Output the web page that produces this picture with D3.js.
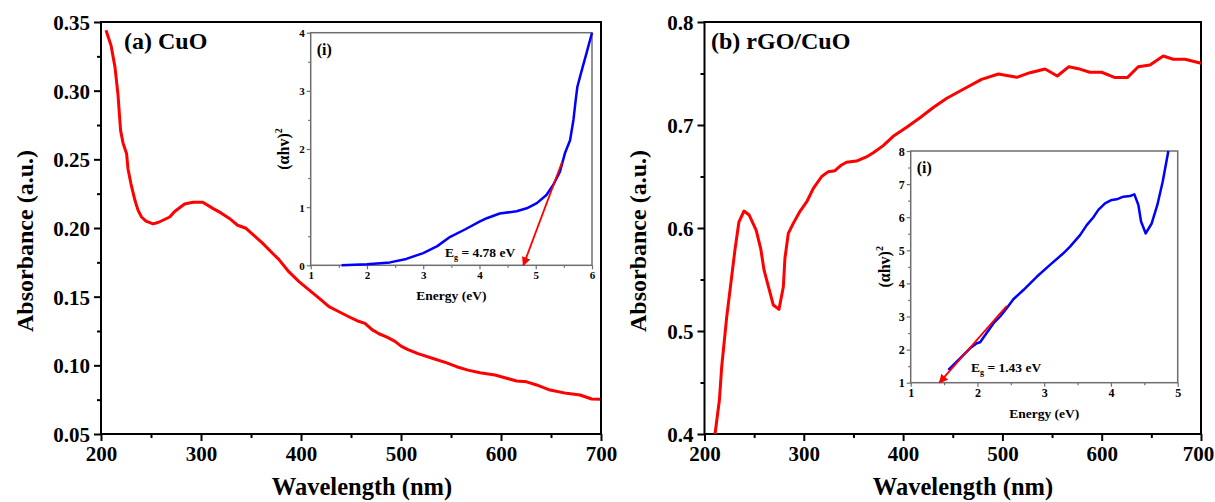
<!DOCTYPE html>
<html><head><meta charset="utf-8">
<script src="https://cdn.jsdelivr.net/npm/d3@7"></script>
<style>
html,body{margin:0;padding:0;background:#fff;}
svg{display:block;}
text{font-family:"Liberation Serif","Times New Roman",serif;font-weight:bold;fill:#000;}
</style></head>
<body><svg id="c" width="1215" height="502"></svg>
<script>
// ---------- DATA ----------
const cuoWavelength = [205,210,214,217,219.6,222,225.6,227,230,234,237,240.5,245,252,257,263,268.7,273.6,283.6,291.9,301.8,311.8,320,328.4,336.6,345,361.5,371.5,378,388,398,408,418,428,438,447.8,456,464,471,478,486,494,500,507,517,532,545,555.6,567,579,594,605.6,615.6,625.6,635.6,649,665.6,679,690.7,699];
const cuoAbsorbance = [0.344,0.333,0.317,0.297,0.271,0.262,0.254,0.243,0.232,0.220,0.213,0.208,0.205,0.203,0.204,0.206,0.208,0.212,0.2175,0.2187,0.2187,0.2143,0.211,0.207,0.202,0.1998,0.189,0.1816,0.177,0.168,0.161,0.155,0.149,0.1427,0.139,0.1354,0.1325,0.1306,0.126,0.123,0.1205,0.1175,0.114,0.1115,0.1085,0.105,0.102,0.099,0.0965,0.0946,0.093,0.0906,0.0886,0.088,0.0857,0.082,0.0796,0.0784,0.0755,0.0753];

const rgoWavelength = [210.6,215,217.3,222.4,227.4,230.7,234.7,239.8,245,252,256.6,260,269.3,275,279.4,281,284.4,289.4,296,303,309.6,318,324.7,331.4,338,343,353,363,370,380,390,403.6,417,430.4,444,460.6,479,496,514.4,527.8,543,555.3,567,576.4,588,600,613.4,625.8,636.8,648.6,662,672,684,700];
const rgoAbsorbance = [0.400,0.433,0.465,0.514,0.553,0.579,0.606,0.6165,0.6126,0.598,0.580,0.559,0.5252,0.521,0.543,0.5706,0.5948,0.6045,0.616,0.6255,0.6385,0.650,0.6547,0.6556,0.6612,0.6638,0.665,0.669,0.673,0.680,0.689,0.6978,0.707,0.717,0.726,0.7347,0.7443,0.7495,0.7463,0.7508,0.7544,0.7476,0.7566,0.7547,0.7512,0.7512,0.746,0.746,0.7566,0.7583,0.767,0.7638,0.7638,0.760];

const cuoEnergy = [1.55,2.0,2.41,2.7,3.0,3.25,3.48,3.75,4.0,4.13,4.36,4.66,4.84,5.02,5.19,5.31,5.43,5.52,5.61,5.67,5.71,5.74,5.82,5.9,6.0];
const cuoTauc = [0,0.02,0.05,0.11,0.21,0.33,0.49,0.62,0.75,0.81,0.89,0.93,0.98,1.07,1.21,1.38,1.61,1.93,2.15,2.5,2.84,3.07,3.36,3.64,4.0];
const cuoFitE = [5.47,4.78];
const cuoFitV = [1.78,0];
const cuoGap = "4.78 eV";

const rgoEnergy = [1.564,1.739,1.889,1.989,2.04,2.238,2.34,2.438,2.538,2.688,2.888,3.087,3.287,3.387,3.537,3.637,3.737,3.811,3.911,4.011,4.086,4.186,4.286,4.351,4.411,4.451,4.521,4.61,4.695,4.775,4.86];
const rgoTauc = [1.384,1.736,2.04,2.19,2.22,2.79,3.0,3.25,3.52,3.80,4.20,4.56,4.91,5.11,5.46,5.76,6.0,6.22,6.42,6.52,6.54,6.62,6.64,6.69,6.37,5.87,5.51,5.81,6.37,7.07,8.0];
const rgoFitE = [2.44,1.43];
const rgoFitV = [3.32,1.0];
const rgoGap = "1.43 eV";

const cuoYTicks = [0.05,0.10,0.15,0.20,0.25,0.30,0.35];
const rgoYTicks = [0.4,0.5,0.6,0.7,0.8];
const wlTicks = [200,300,400,500,600,700];

// ---------- DRAW ----------
const svg = d3.select("#c");
svg.append("rect").attr("width",1215).attr("height",502).attr("fill","#fff");
const defs = svg.append("defs");
defs.append("marker").attr("id","arr").attr("viewBox","0 0 10 10").attr("refX",9).attr("refY",5)
  .attr("markerWidth",5).attr("markerHeight",5).attr("orient","auto")
  .append("path").attr("d","M0,0 L10,5 L0,10 Z").attr("fill","#ff0000");

function styleAxis(g, color, width, fs){
  g.select(".domain").remove();
  g.selectAll(".tick line").attr("stroke",color).attr("stroke-width",width);
  g.selectAll(".tick text").attr("font-size",fs).attr("font-family","Liberation Serif").attr("font-weight","bold").attr("fill","#000");
}

function mainPanel(o){
  const x = d3.scaleLinear().domain([200,700]).range(o.xr);
  const y = d3.scaleLinear().domain(o.yd).range([434,22]);
  const xmin = d3.range(250,700,100);
  const ymin = o.yMinor;
  const gxm = svg.append("g").attr("transform","translate(0,434)")
    .call(d3.axisBottom(x).tickValues(xmin).tickSize(4).tickFormat(""));
  styleAxis(gxm,"#000",2,0);
  const gym = svg.append("g").attr("transform",`translate(${o.xr[0]},0)`)
    .call(d3.axisLeft(y).tickValues(ymin).tickSize(4).tickFormat(""));
  styleAxis(gym,"#000",2,0);
  const gx = svg.append("g").attr("transform","translate(0,434)")
    .call(d3.axisBottom(x).tickValues(wlTicks).tickSize(7).tickPadding(5).tickFormat(d3.format("d")));
  styleAxis(gx,"#000",2,"21px");
  if (o.lastShift) gx.selectAll(".tick text").filter(d=>d===700).attr("dx",o.lastShift);
  const gy = svg.append("g").attr("transform",`translate(${o.xr[0]},0)`)
    .call(d3.axisLeft(y).tickValues(o.yt).tickSize(7).tickPadding(4).tickFormat(d3.format(o.fmt)));
  styleAxis(gy,"#000",2,"21px");
  gy.selectAll(".tick text").attr("dy","0.35em");
  svg.append("rect").attr("x",o.xr[0]).attr("y",22).attr("width",o.xr[1]-o.xr[0]).attr("height",412)
    .attr("fill","none").attr("stroke","#000").attr("stroke-width",2);
  const line = d3.line().x(d=>x(d[0])).y(d=>y(d[1]));
  svg.append("path").datum(d3.zip(o.wl,o.ab)).attr("d",line)
    .attr("fill","none").attr("stroke","#ff0000").attr("stroke-width",3).attr("stroke-linejoin","round");
  svg.append("text").attr("x",o.titleX).attr("y",49).attr("font-size","24px").text(o.title);
  svg.append("text").attr("transform",`translate(${o.ylabX},241) rotate(-90)`).attr("text-anchor","middle")
    .attr("font-size","24px").text("Absorbance (a.u.)");
  svg.append("text").attr("x",o.xlabX).attr("y",495).attr("text-anchor","middle")
    .attr("font-size","24.5px").text("Wavelength (nm)");
}

function insetPanel(o){
  const x = d3.scaleLinear().domain(o.xd).range(o.xr);
  const y = d3.scaleLinear().domain(o.yd).range(o.yr);
  const c = "#6e6e6e";
  svg.append("rect").attr("x",o.xr[0]).attr("y",o.yr[1]).attr("width",o.xr[1]-o.xr[0]).attr("height",o.yr[0]-o.yr[1])
    .attr("fill","#fff").attr("stroke","none");
  const gxm = svg.append("g").attr("transform",`translate(0,${o.yr[0]})`)
    .call(d3.axisBottom(x).tickValues(o.xMinor).tickSize(2.5).tickFormat(""));
  styleAxis(gxm,c,1.2,0);
  const gym = svg.append("g").attr("transform",`translate(${o.xr[0]},0)`)
    .call(d3.axisLeft(y).tickValues(o.yMinor).tickSize(2.5).tickFormat(""));
  styleAxis(gym,c,1.2,0);
  const gx = svg.append("g").attr("transform",`translate(0,${o.yr[0]})`)
    .call(d3.axisBottom(x).tickValues(o.xt).tickSize(4).tickPadding(2).tickFormat(d3.format("d")));
  styleAxis(gx,c,1.2,o.fs);
  const gy = svg.append("g").attr("transform",`translate(${o.xr[0]},0)`)
    .call(d3.axisLeft(y).tickValues(o.yt).tickSize(4).tickPadding(2).tickFormat(d3.format("d")));
  styleAxis(gy,c,1.2,o.fs);
  gy.selectAll(".tick text").attr("dy","0.35em");
  svg.append("rect").attr("x",o.xr[0]).attr("y",o.yr[1]).attr("width",o.xr[1]-o.xr[0]).attr("height",o.yr[0]-o.yr[1])
    .attr("fill","none").attr("stroke",c).attr("stroke-width",1.5);
  const line = d3.line().x(d=>x(d[0])).y(d=>y(d[1]));
  svg.append("path").datum(d3.zip(o.e,o.v)).attr("d",line)
    .attr("fill","none").attr("stroke","#0000ff").attr("stroke-width",2.5).attr("stroke-linejoin","round");
  svg.append("path").datum(d3.zip(o.fe,o.fv)).attr("d",line)
    .attr("fill","none").attr("stroke","#ff0000").attr("stroke-width",1.8).attr("marker-end","url(#arr)");
  svg.append("text").attr("x",o.xr[0]+6).attr("y",o.yr[1]+22).attr("font-size","16px").text("(i)");
  svg.append("text").attr("x",(o.xr[0]+o.xr[1])/2).attr("y",o.yr[0]+35).attr("text-anchor","middle")
    .attr("font-size","13.5px").text("Energy (eV)");
  const yl = svg.append("text").attr("transform",`translate(${o.ylabX},${(o.yr[0]+o.yr[1])/2}) rotate(-90)`)
    .attr("text-anchor","middle").attr("font-size","16px");
  yl.append("tspan").text("(\u03b1hv)");
  yl.append("tspan").attr("font-size","10px").attr("dy","-7").text("2");
  const eg = svg.append("text").attr("x",o.egX).attr("y",o.egY).attr("font-size","13.5px");
  eg.append("tspan").text("E");
  eg.append("tspan").attr("font-size","8px").attr("dy","3").text("g");
  eg.append("tspan").attr("dy","-3").text(" = " + o.gap);
}

mainPanel({xr:[101,601], yd:[0.05,0.35], yt:cuoYTicks, yMinor:d3.range(0.075,0.35,0.05), fmt:".2f",
  wl:cuoWavelength, ab:cuoAbsorbance, title:"(a) CuO", titleX:124, ylabX:33, xlabX:362});
mainPanel({xr:[704.5,1201], yd:[0.4,0.8], yt:rgoYTicks, yMinor:d3.range(0.45,0.8,0.1), fmt:".1f",
  wl:rgoWavelength, ab:rgoAbsorbance, title:"(b) rGO/CuO", titleX:711, ylabX:646, xlabX:963, lastShift:-3});

insetPanel({xd:[1,6], xr:[310.7,592], yd:[0,4], yr:[265.3,32.7], xt:[1,2,3,4,5,6], yt:[0,1,2,3,4],
  xMinor:d3.range(1.5,6,1), yMinor:d3.range(0.5,4,1), fs:"11px",
  e:cuoEnergy, v:cuoTauc, fe:cuoFitE, fv:cuoFitV, gap:cuoGap, egX:445, egY:257, ylabX:289});
insetPanel({xd:[1,5], xr:[910.7,1177.7], yd:[1,8], yr:[382.7,151], xt:[1,2,3,4,5], yt:[1,2,3,4,5,6,7,8],
  xMinor:d3.range(1.5,5,1), yMinor:d3.range(1.5,8,1), fs:"12px",
  e:rgoEnergy, v:rgoTauc, fe:rgoFitE, fv:rgoFitV, gap:rgoGap, egX:971, egY:372, ylabX:890});
</script></body></html>
